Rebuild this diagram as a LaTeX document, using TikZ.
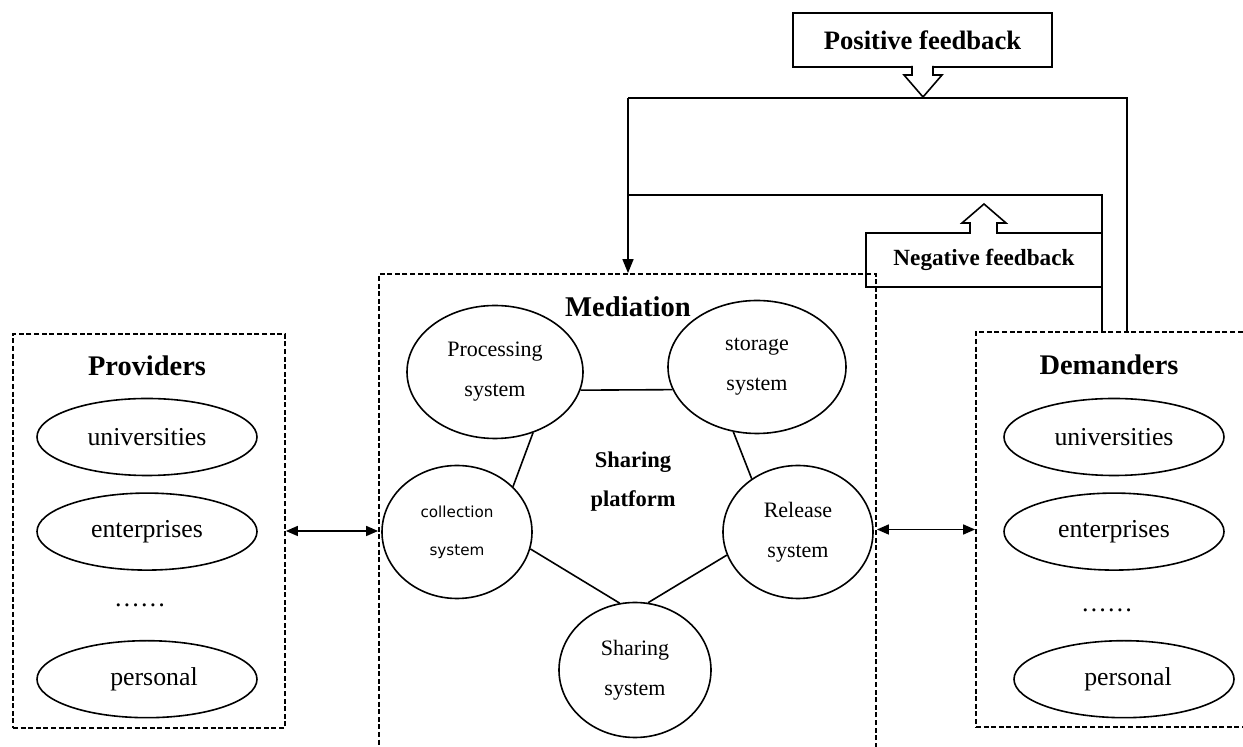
\documentclass[tikz,border=0pt]{standalone}
\usepackage{fontspec}
\setmainfont{Liberation Serif}
\newfontfamily\collfont{DejaVu Sans}
\usetikzlibrary{arrows.meta, positioning, shapes.geometric}

\begin{document}
\begin{tikzpicture}[
    x=0.5pt, y=-0.5pt,
    groupbox/.style={rectangle, draw, line width=0.9pt, dash pattern=on 2.5pt off 1.3pt,
                 inner sep=0pt},
    grouptitle/.style={font=\fontsize{14.2}{16}\selectfont\bfseries},
    member/.style={ellipse, draw, line width=0.8pt, minimum width=110pt,
                 minimum height=38.5pt, inner sep=0pt, font=\fontsize{12.9}{15}\selectfont},
    subsys/.style={ellipse, draw, line width=0.8pt, inner sep=0pt, minimum height=66.5pt,
                 align=center, font=\fontsize{11}{20}\selectfont},
    fbbox/.style={rectangle, draw, line width=0.8pt, inner sep=0pt, minimum height=27pt},
    link/.style={line width=0.8pt},
    fbline/.style={line width=0.8pt},
    dbl/.style={line width=0.8pt, {Triangle[length=6pt,width=5pt]}-{Triangle[length=6pt,width=5pt]}},
  ]
    \useasboundingbox (0,0) rectangle (1243,747);

    % the three groups
    \node[groupbox, minimum width=136pt, minimum height=197pt] (prov) at (149,531) {};
    \node[groupbox, minimum width=248.5pt, minimum height=243pt] (med) at (627.5,517) {};
    \node[groupbox, minimum width=137pt, minimum height=197.5pt] (dem) at (1113,529.5) {};

    \node[grouptitle] (provt) at (147,366) {Providers};
    \node[grouptitle] (demt) at (1109,365) {Demanders};
    \node[font=\fontsize{14.3}{16}\selectfont\bfseries] (medt) at (628,307) {Mediation};

    % providers
    \node[member] (puni) at (147,437) {universities};
    \node[member, below=8pt of puni] (pent) {enterprises};
    \node[font=\fontsize{12.9}{15}\selectfont] (pdots) at (140,605) {……};
    \node[member, below=34.5pt of pent] (pper) {\hspace{7pt}personal};

    % demanders
    \node[member] (duni) at (1114,437) {universities};
    \node[member, below=8pt of duni] (dent) {enterprises};
    \node[font=\fontsize{12.9}{15}\selectfont] (ddots) at (1107,610) {……};
    \node[member, below=34.5pt of dent, xshift=5pt] (dper) {\hspace{4pt}personal};

    % sharing platform
    \node[align=center, font=\fontsize{11.25}{19.5}\selectfont\bfseries] (plat) at (633,482) {Sharing\\platform};
    \node[subsys, minimum width=88pt] (proc) at (495,372) {Processing\\system};
    \node[subsys, minimum width=89pt] (stor) at (757,367) {storage\\system};
    \node[subsys, minimum width=75pt, font=\collfont\fontsize{7.6}{19}\selectfont] (coll) at (457,532) {collection\\system};
    \node[subsys, minimum width=75pt] (rel) at (798,532) {Release\\system};
    \node[subsys, minimum width=76pt, minimum height=67.5pt] (share) at (635,670) {Sharing\\system};

    \draw[link] (proc.-12) -- (stor.195);
    \draw[link] (proc.-58) -- (coll.39);
    \draw[link] (stor.-110) -- (rel.131);
    \draw[link] (coll.-13) -- (share.103);
    \draw[link] (rel.198) -- (share.79);

    \draw[dbl] (prov.east) -- (prov.east -| med.west);
    \draw[dbl] (dem.west -| med.east) -- (dem.west);

    % feedback loops
    \node[fbbox, minimum width=129.5pt, font=\fontsize{13.3}{15}\selectfont\bfseries] (posfb) at (922.5,40) {Positive feedback};
    \node[fbbox, minimum width=118pt, font=\fontsize{11.6}{14}\selectfont\bfseries] (negfb) at (984,260) {Negative feedback};

    \coordinate (posR) at (1127,98);
    \coordinate (posL) at (628,98);
    \coordinate (negR) at (1102,195);
    \coordinate (negL) at (628,195);

    \draw[fbline] (dem.north -| posR) -- (posR) -- (posL);
    \draw[fbline, -{Triangle[length=7pt,width=5.5pt]}] (posL) -- (posL |- med.north);
    \draw[fbline] (dem.north -| negR) -- (negR) -- (negL);

    \draw[link, fill=white] (912,66) -- (912,75) -- (904,75) -- (923,97) -- (942,75) -- (933,75) -- (933,66);
    \draw[link, fill=white] (970,234) -- (970,223) -- (962,223) -- (984,204) -- (1006,223) -- (997,223) -- (997,234);
\end{tikzpicture}
\end{document}
